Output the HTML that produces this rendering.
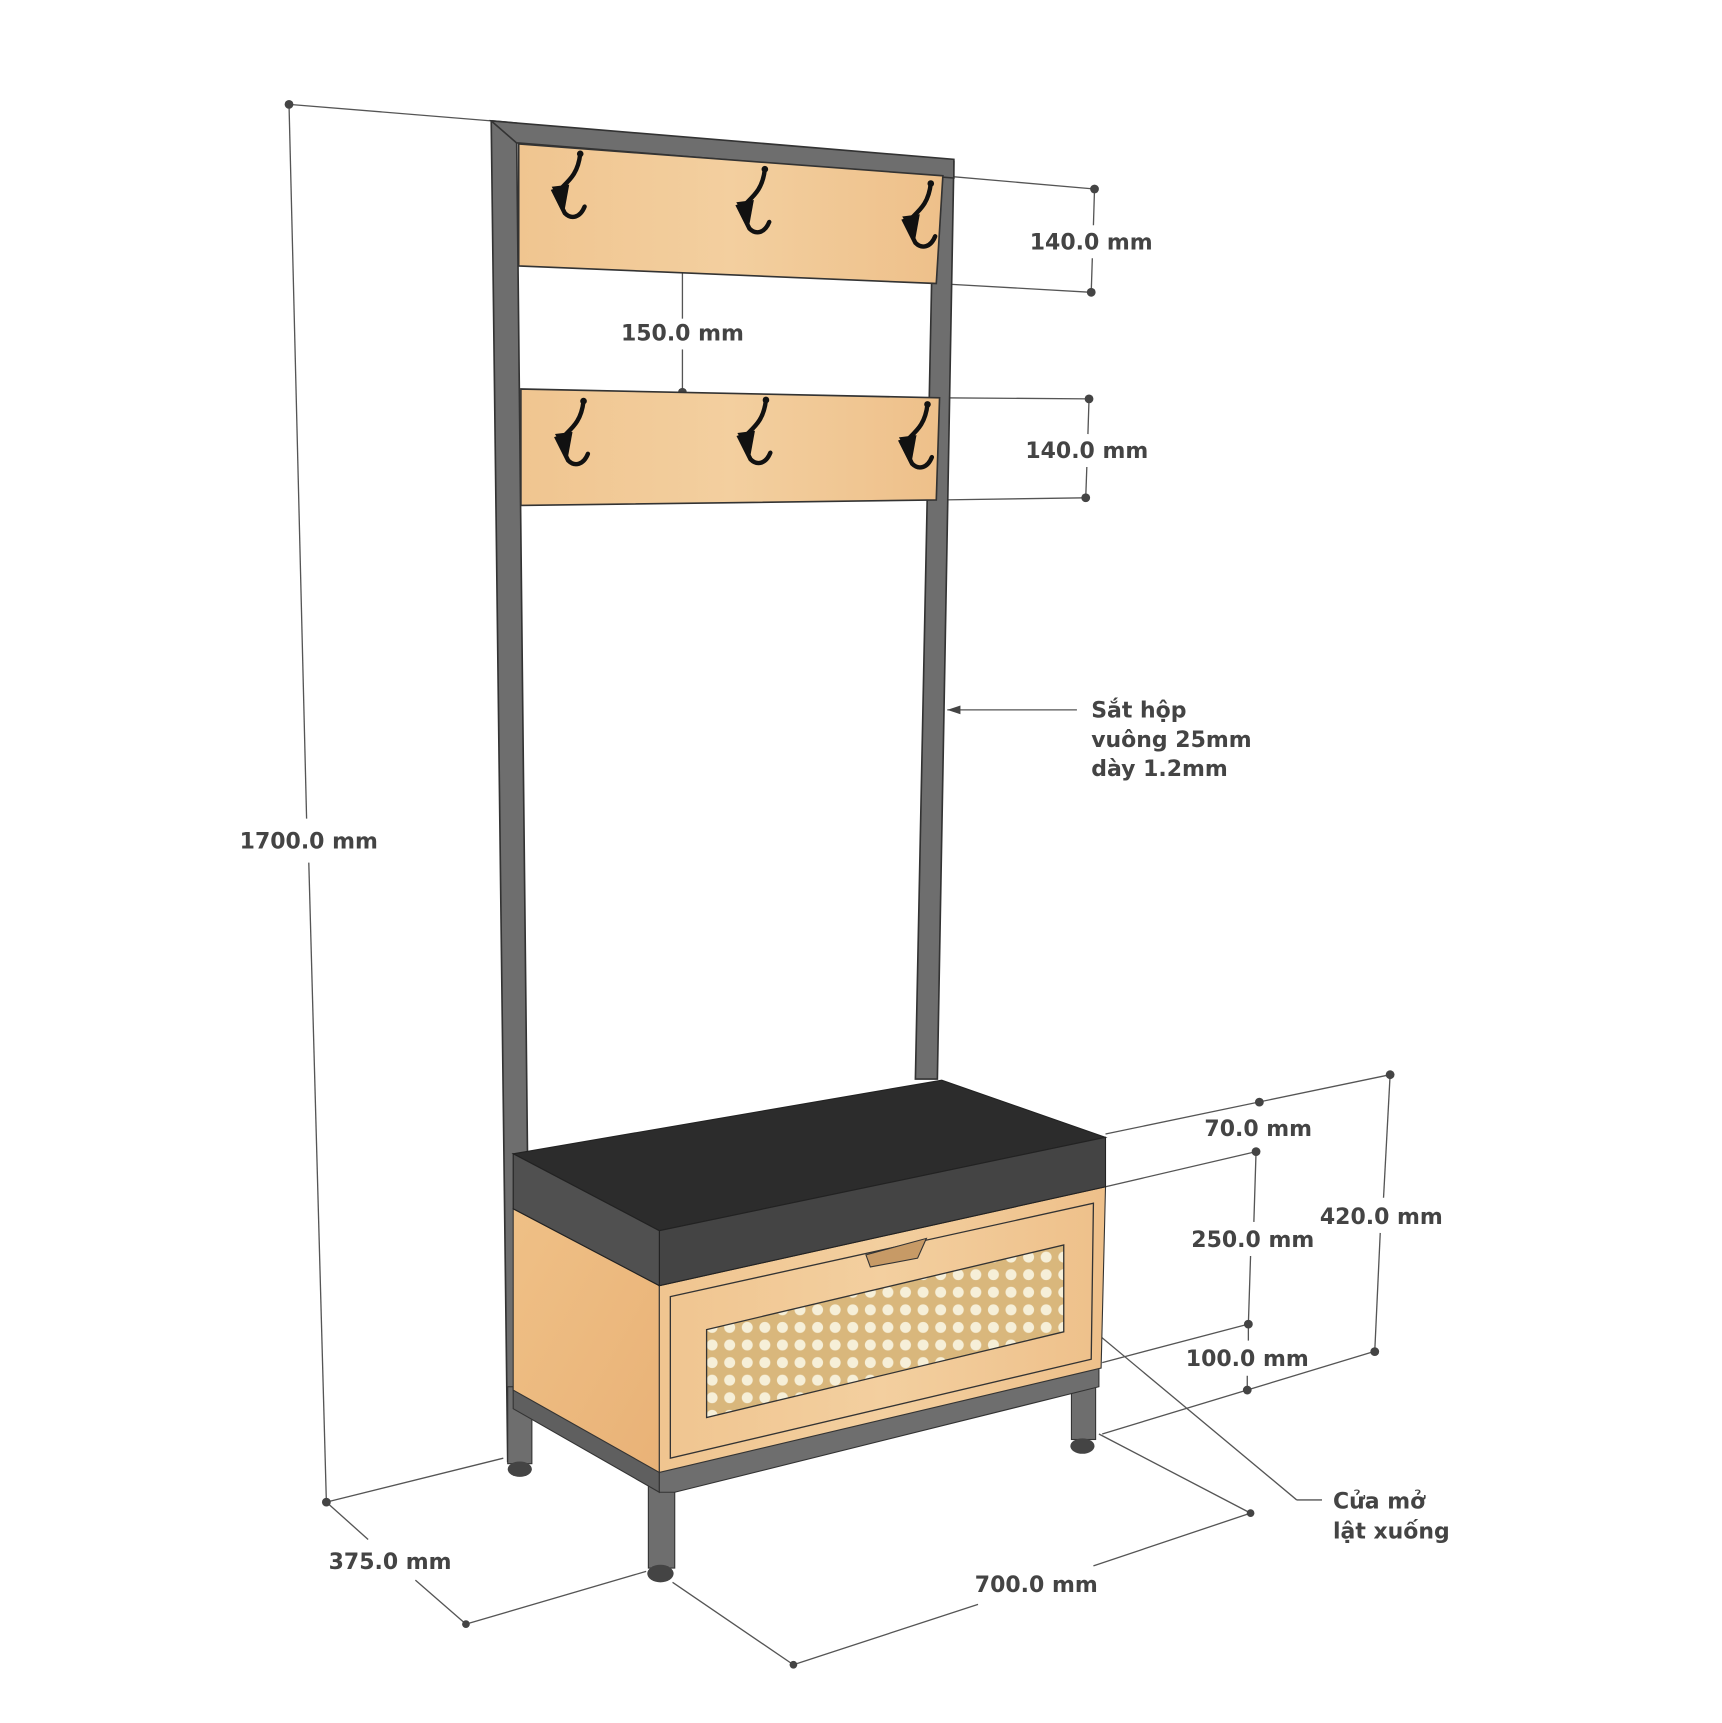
<!DOCTYPE html>
<html><head><meta charset="utf-8"><style>
html,body{margin:0;padding:0;background:#fff;}
svg{display:block;}
text{font-family:"DejaVu Sans","Liberation Sans",sans-serif;font-weight:bold;font-size:20px;fill:#444;}
</style></head><body>
<svg width="1722" height="1723" viewBox="0 0 1567 1568" preserveAspectRatio="none" xmlns="http://www.w3.org/2000/svg">
<defs>
<linearGradient id="wood" x1="0" y1="0" x2="1" y2="0">
<stop offset="0" stop-color="#f0c590"/><stop offset="0.5" stop-color="#f3cf9f"/><stop offset="1" stop-color="#eec08a"/>
</linearGradient>
<linearGradient id="wood2" x1="0" y1="0" x2="1" y2="1">
<stop offset="0" stop-color="#efc086"/><stop offset="1" stop-color="#e9b277"/>
</linearGradient>
<pattern id="rattan" width="16" height="16" patternUnits="userSpaceOnUse">
<rect width="16" height="16" fill="#d9b77c"/>
<circle cx="8" cy="8" r="5" fill="#f6efd8"/>
</pattern>
<g id="hook">
<path d="M8,-28 C6,-10 -2,-4 -10,4 L-16,6 L-6,26 C0,32 8,30 12,20" fill="none" stroke="#111" stroke-width="4" stroke-linecap="round"/>
<path d="M-18,2 L-2,0 L-6,22 Z" fill="#111"/>
<circle cx="8" cy="-28" r="3" fill="#111"/>
</g>
</defs>

<g stroke="#555" stroke-width="1.2" fill="none">
<line x1="263" y1="95" x2="447" y2="110"/>
<line x1="263" y1="95" x2="279" y2="745"/>
<line x1="281" y1="785" x2="297" y2="1367"/>
<line x1="297" y1="1367" x2="458" y2="1327"/>
<line x1="297" y1="1367" x2="335" y2="1401"/>
<line x1="378" y1="1438" x2="424" y2="1478"/>
<line x1="424" y1="1478" x2="588" y2="1430"/>
<line x1="612" y1="1440" x2="722" y2="1515"/>
<line x1="722" y1="1515" x2="890" y2="1460"/>
<line x1="995" y1="1425" x2="1138" y2="1377"/>
<line x1="1000" y1="1305" x2="1138" y2="1377"/>
<line x1="858" y1="160" x2="996" y2="172"/>
<line x1="852" y1="258" x2="993" y2="266"/>
<line x1="996" y1="172" x2="995" y2="205"/>
<line x1="994" y1="235" x2="993" y2="266"/>
<line x1="621" y1="245" x2="621" y2="290"/>
<line x1="621" y1="318" x2="621" y2="357"/>
<line x1="855" y1="362" x2="991" y2="363"/>
<line x1="852" y1="455" x2="988" y2="453"/>
<line x1="991" y1="363" x2="990" y2="395"/>
<line x1="989" y1="425" x2="988" y2="453"/>
<line x1="1006" y1="1032" x2="1265" y2="978"/>
<line x1="1006" y1="1080" x2="1143" y2="1048"/>
<line x1="1143" y1="1048" x2="1141" y2="1112"/>
<line x1="1138" y1="1143" x2="1136" y2="1205"/>
<line x1="1003" y1="1240" x2="1136" y2="1205"/>
<line x1="1136" y1="1205" x2="1136" y2="1220"/>
<line x1="1135" y1="1252" x2="1135" y2="1265"/>
<line x1="1003" y1="1305" x2="1250" y2="1230"/>
<line x1="1265" y1="978" x2="1259" y2="1090"/>
<line x1="1256" y1="1122" x2="1251" y2="1230"/>
<line x1="862" y1="646" x2="980" y2="646"/>
<line x1="970" y1="1190" x2="1180" y2="1365"/>
<line x1="1180" y1="1365" x2="1203" y2="1365"/>
</g>
<g fill="#444">
<circle cx="263" cy="95" r="4"/><circle cx="297" cy="1367" r="4"/><circle cx="424" cy="1478" r="3.5"/>
<circle cx="722" cy="1515" r="3.5"/><circle cx="1138" cy="1377" r="3.5"/>
<circle cx="996" cy="172" r="4"/><circle cx="993" cy="266" r="4"/>
<circle cx="621" cy="245" r="4"/><circle cx="621" cy="357" r="4"/>
<circle cx="991" cy="363" r="4"/><circle cx="988" cy="453" r="4"/>
<circle cx="1265" cy="978" r="4"/><circle cx="1146" cy="1003" r="4"/><circle cx="1143" cy="1048" r="4"/>
<circle cx="1136" cy="1205" r="4"/><circle cx="1135" cy="1265" r="4"/><circle cx="1251" cy="1230" r="4"/>
<polygon points="862,646 874,642 874,650"/>
<polygon points="970,1190 982,1194 977,1201"/>
</g>

<polygon points="447,110 470,112 483,1330 462,1330" fill="#6e6e6e" stroke="#333" stroke-width="1.5"/>
<polygon points="850,147 868,147 853,982 833,982" fill="#6e6e6e" stroke="#333" stroke-width="1.5"/>
<polygon points="447,110 868,145 868,162 470,130" fill="#6e6e6e" stroke="#333" stroke-width="1.5"/>

<polygon points="472,131 858,160 852,258 472,242" fill="url(#wood)" stroke="#333" stroke-width="1.5"/>
<polygon points="474,354 855,362 852,455 474,460" fill="url(#wood)" stroke="#333" stroke-width="1.5"/>
<use href="#hook" x="520" y="168"/>
<use href="#hook" x="688" y="182"/>
<use href="#hook" x="839" y="195"/>
<use href="#hook" x="523" y="393"/>
<use href="#hook" x="689" y="392"/>
<use href="#hook" x="836" y="396"/>

<rect x="462" y="1262" width="22" height="70" fill="#6e6e6e" stroke="#333"/>
<ellipse cx="473" cy="1337" rx="11" ry="7" fill="#444"/>
<rect x="975" y="1250" width="22" height="60" fill="#6e6e6e" stroke="#333"/>
<ellipse cx="985" cy="1316" rx="11" ry="7" fill="#444"/>
<rect x="590" y="1345" width="24" height="82" fill="#6e6e6e" stroke="#333"/>
<ellipse cx="601" cy="1432" rx="12" ry="8" fill="#444"/>
<polygon points="467,1262 600,1337 600,1358 467,1282" fill="#5f5f5f" stroke="#333"/>
<polygon points="600,1337 1000,1243 1000,1262 614,1358 600,1358" fill="#6e6e6e" stroke="#333"/>
<polygon points="467,1100 600,1170 600,1340 467,1265" fill="url(#wood2)" stroke="#333"/>
<polygon points="600,1170 1006,1080 1002,1245 600,1340" fill="url(#wood)" stroke="#333"/>
<polygon points="610,1180 995,1095 993,1237 610,1327" fill="none" stroke="#333" stroke-width="1.2"/>
<polygon points="643,1210 968,1133 968,1212 643,1290" fill="url(#rattan)" stroke="#333" stroke-width="1.2"/>
<polygon points="788,1142 843,1127 835,1145 792,1153" fill="#c79a66" stroke="#333"/>
<polygon points="467,1050 857,983 1006,1035 600,1120" fill="#2c2c2c" stroke="#222"/>
<polygon points="600,1120 1006,1035 1006,1080 600,1170" fill="#444" stroke="#222"/>
<polygon points="467,1050 600,1120 600,1170 467,1100" fill="#505050" stroke="#222"/>

<g>
<text x="281" y="772" text-anchor="middle">1700.0 mm</text>
<text x="355" y="1428" text-anchor="middle">375.0 mm</text>
<text x="943" y="1449" text-anchor="middle">700.0 mm</text>
<text x="993" y="227" text-anchor="middle">140.0 mm</text>
<text x="621" y="310" text-anchor="middle">150.0 mm</text>
<text x="989" y="417" text-anchor="middle">140.0 mm</text>
<text x="1145" y="1034" text-anchor="middle">70.0 mm</text>
<text x="1140" y="1135" text-anchor="middle">250.0 mm</text>
<text x="1257" y="1114" text-anchor="middle">420.0 mm</text>
<text x="1135" y="1243" text-anchor="middle">100.0 mm</text>
<text x="993" y="653">Sắt hộp</text>
<text x="993" y="680">vuông 25mm</text>
<text x="993" y="706">dày 1.2mm</text>
<text x="1213" y="1373">Cửa mở</text>
<text x="1213" y="1400">lật xuống</text>
</g>
</svg>
</body></html>
